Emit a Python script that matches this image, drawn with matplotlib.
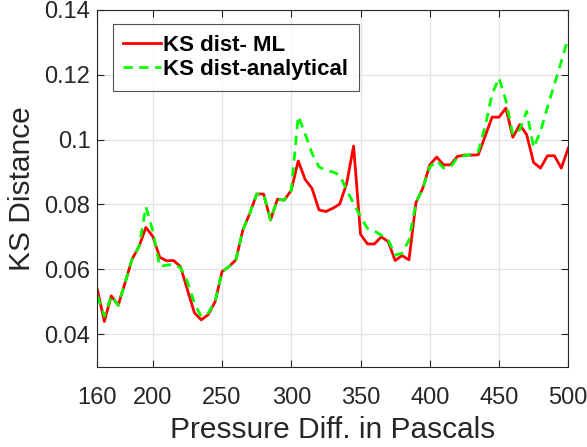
import numpy as np
import matplotlib.pyplot as plt

plt.switch_backend("Agg")
plt.rcParams["font.family"] = ["Liberation Sans", "DejaVu Sans"]

# pressure difference (Pa)
pressure = list(range(160, 505, 5))

# KS distance, ML fit
ks_ml = [
    0.0536, 0.0439, 0.0518, 0.0489, 0.0559, 0.0631, 0.0670, 0.0729, 0.0701, 0.0637,
    0.0626, 0.0627, 0.0608, 0.0536, 0.0466, 0.0444, 0.0460, 0.0500, 0.0593, 0.0608,
    0.0629, 0.0721, 0.0772, 0.0832, 0.0832, 0.0752, 0.0816, 0.0813, 0.0844, 0.0934,
    0.0877, 0.0849, 0.0783, 0.0778, 0.0788, 0.0801, 0.0865, 0.0980, 0.0708, 0.0678,
    0.0678, 0.0700, 0.0685, 0.0627, 0.0642, 0.0629, 0.0805, 0.0850, 0.0922, 0.0946,
    0.0922, 0.0922, 0.0948, 0.0952, 0.0952, 0.0953, 0.1010, 0.1069, 0.1069, 0.1097,
    0.1007, 0.1046, 0.1015, 0.0929, 0.0912, 0.0950, 0.0950, 0.0912, 0.0973,
]

# KS distance, analytical fit
ks_analytical = [
    0.0518, 0.0455, 0.0518, 0.0489, 0.0559, 0.0631, 0.0670, 0.0793, 0.0718, 0.0608,
    0.0613, 0.0615, 0.0605, 0.0562, 0.0495, 0.0454, 0.0465, 0.0500, 0.0593, 0.0608,
    0.0629, 0.0721, 0.0772, 0.0832, 0.0832, 0.0752, 0.0816, 0.0813, 0.0844, 0.1072,
    0.1018, 0.0957, 0.0916, 0.0905, 0.0900, 0.0890, 0.0844, 0.0803, 0.0762, 0.0726,
    0.0718, 0.0705, 0.0690, 0.0644, 0.0649, 0.0690, 0.0805, 0.0850, 0.0915, 0.0935,
    0.0912, 0.0915, 0.0945, 0.0950, 0.0955, 0.0963, 0.1040, 0.1140, 0.1190, 0.1120,
    0.1015, 0.1030, 0.1087, 0.0975, 0.1025, 0.1100, 0.1170, 0.1240, 0.1315,
]

xticks = [160, 200, 250, 300, 350, 400, 450, 500]
yticks = [0.04, 0.06, 0.08, 0.1, 0.12, 0.14]
ytick_labels = ["0.04", "0.06", "0.08", "0.1", "0.12", "0.14"]

fig = plt.figure(figsize=(5.87, 4.47), dpi=100)
ax = fig.add_axes([0.166, 0.180, 0.802, 0.798])

ax.plot(pressure, ks_ml, color="#ff0000", lw=2.0, label="KS dist- ML")
ax.plot(pressure, ks_analytical, color="#00ff00", lw=2.0, ls=(0, (3.3, 2.4)),
        label="KS dist-analytical")

ax.set_xlim(160, 500)
ax.set_ylim(0.03, 0.14)
ax.set_xticks(xticks)
ax.set_yticks(yticks)
ax.set_yticklabels(ytick_labels)
ax.tick_params(direction="in", top=True, right=True, labelsize=17,
               colors="#262626", length=5, width=0.8)
ax.tick_params(axis="x", pad=15)
ax.tick_params(axis="y", pad=5)
ax.grid(True, color="#e3e3e3", lw=0.9)
ax.set_axisbelow(True)
for sp in ax.spines.values():
    sp.set_color("#262626")
    sp.set_linewidth(0.8)

ax.set_xlabel("Pressure Diff. in Pascals", fontsize=21.5, color="#262626", labelpad=5)
ax.set_ylabel("KS Distance", fontsize=21.5, color="#262626", labelpad=6)

leg = ax.legend(loc="upper left", bbox_to_anchor=(0.032, 0.96),
                prop={"weight": "bold", "size": 16}, frameon=True, fancybox=False,
                edgecolor="#262626", handlelength=1.7, handletextpad=0.1,
                borderpad=0.48, labelspacing=0.15, borderaxespad=0)
leg.get_frame().set_linewidth(0.8)

plt.savefig("out.png", dpi=100)
